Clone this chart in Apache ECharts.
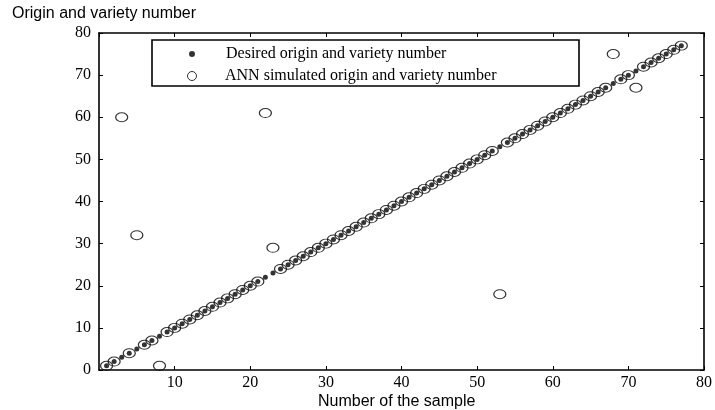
<!DOCTYPE html>
<html>
<head>
<meta charset="utf-8">
<script src="https://cdn.jsdelivr.net/npm/echarts@6/dist/echarts.min.js"></script>
<style>
  html, body { margin: 0; padding: 0; background: #fff; }
  #main { width: 715px; height: 410px; }
</style>
</head>
<body>
<div id="main"></div>
<script>
  // sample numbers
  var sampleNo = [1,2,3,4,5,6,7,8,9,10,11,12,13,14,15,16,17,18,19,20,
    21,22,23,24,25,26,27,28,29,30,31,32,33,34,35,36,37,38,39,40,
    41,42,43,44,45,46,47,48,49,50,51,52,53,54,55,56,57,58,59,60,
    61,62,63,64,65,66,67,68,69,70,71,72,73,74,75,76,77];
  // desired origin and variety number
  var desired = [1,2,3,4,5,6,7,8,9,10,11,12,13,14,15,16,17,18,19,20,
    21,22,23,24,25,26,27,28,29,30,31,32,33,34,35,36,37,38,39,40,
    41,42,43,44,45,46,47,48,49,50,51,52,53,54,55,56,57,58,59,60,
    61,62,63,64,65,66,67,68,69,70,71,72,73,74,75,76,77];
  // ANN simulated origin and variety number
  var simulated = [1,2,60,4,32,6,7,1,9,10,11,12,13,14,15,16,17,18,19,20,
    21,61,29,24,25,26,27,28,29,30,31,32,33,34,35,36,37,38,39,40,
    41,42,43,44,45,46,47,48,49,50,51,52,18,54,55,56,57,58,59,60,
    61,62,63,64,65,66,67,75,69,70,67,72,73,74,75,76,77];
  var xTicks = [10, 20, 30, 40, 50, 60, 70, 80];

  var nameDesired = 'Desired origin and variety number';
  var nameAnn = 'ANN simulated origin and variety number';

  function pairs(ys) {
    return sampleNo.map(function (x, i) { return [x, ys[i]]; });
  }

  var chart = echarts.init(document.getElementById('main'));
  var axisLine = { show: true, onZero: false, lineStyle: { color: '#000', width: 1.6 } };
  var tickStyle = { show: true, inside: true, length: 4, lineStyle: { color: '#000', width: 1 } };
  var labelFont = { color: '#000', fontFamily: 'Liberation Serif', fontSize: 16 };
  var nameFont = { fontFamily: 'Liberation Sans', fontSize: 16, fontWeight: 'normal', color: '#000' };
  var legendFont = { fontFamily: 'Liberation Serif', fontSize: 16, color: '#000' };

  chart.setOption({
    animation: false,
    title: [{
      text: 'Origin and variety number',
      left: 7, top: 1,
      textStyle: nameFont
    }, {
      text: 'Number of the sample',
      left: 313, top: 389,
      textStyle: nameFont
    }],
    grid: { left: 99, right: 7, top: 33, bottom: 40 },
    legend: [{
      data: [nameDesired],
      left: 189, top: 46,
      itemWidth: 6, itemHeight: 6,
      padding: 0,
      selectedMode: false,
      textStyle: Object.assign({ padding: [0, 0, 0, 26] }, legendFont)
    }, {
      data: [nameAnn],
      left: 187, top: 68,
      itemWidth: 12, itemHeight: 9,
      symbolKeepAspect: false,
      padding: 0,
      selectedMode: false,
      itemStyle: { borderWidth: 1, borderColor: '#000', color: 'rgba(255,255,255,0)' },
      textStyle: Object.assign({ padding: [0, 0, 0, 22] }, legendFont)
    }],
    graphic: [{
      type: 'rect',
      shape: { x: 152, y: 40, width: 427, height: 46 },
      style: { fill: 'none', stroke: '#000', lineWidth: 1.6 },
      z: 100
    }],
    xAxis: [{
      type: 'value', min: 0, max: 80, interval: 10,
      axisLine: axisLine, axisTick: tickStyle, splitLine: { show: false },
      axisLabel: Object.assign({ margin: 5, showMinLabel: false,
        formatter: function (v) { return xTicks.indexOf(v) >= 0 ? String(v) : ''; } }, labelFont)
    }, {
      type: 'value', min: 0, max: 80, interval: 10, position: 'top',
      axisLine: axisLine, axisTick: tickStyle, splitLine: { show: false },
      axisLabel: { show: false }
    }],
    yAxis: [{
      type: 'value', min: 0, max: 80, interval: 10,
      axisLine: axisLine, axisTick: tickStyle, splitLine: { show: false },
      axisLabel: Object.assign({ margin: 8 }, labelFont)
    }, {
      type: 'value', min: 0, max: 80, interval: 10, position: 'right',
      axisLine: axisLine, axisTick: tickStyle, splitLine: { show: false },
      axisLabel: { show: false }
    }],
    series: [{
      name: nameAnn,
      type: 'scatter',
      symbol: 'circle',
      symbolSize: [12, 9],
      itemStyle: { color: 'rgba(255,255,255,0)', borderColor: '#000', borderWidth: 1.1 },
      data: pairs(simulated),
      z: 2
    }, {
      name: nameDesired,
      type: 'scatter',
      symbol: 'circle',
      symbolSize: 5,
      itemStyle: { color: '#000' },
      data: pairs(desired),
      z: 3
    }]
  });
</script>
</body>
</html>
